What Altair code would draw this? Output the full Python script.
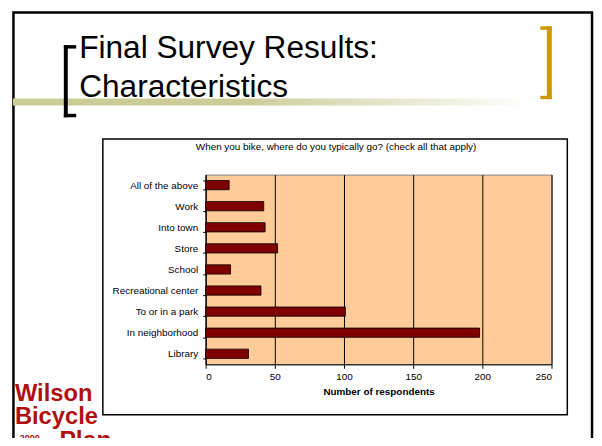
import altair as alt
import pandas as pd

# ---- data ----
categories = ["All of the above", "Work", "Into town", "Store", "School",
              "Recreational center", "To or in a park", "In neighborhood", "Library"]
respondents = [17, 42, 43, 52, 18, 40, 101, 198, 31]
x_ticks = [0, 50, 100, 150, 200, 250]

slide_title = ["Final Survey Results:", "Characteristics"]
chart_title = "When you bike, where do you typically go? (check all that apply)"
x_title = "Number of respondents"
logo_lines = ["Wilson", "Bicycle", "Plan", "2009"]

df = pd.DataFrame({"place": categories, "count": respondents})
one = pd.DataFrame({"a": [0]})

FONT = "Liberation Sans, Arial, sans-serif"


def box(x, x2, y, y2, **kw):
    return alt.Chart(one).mark_rect(**kw).encode(
        x=alt.value(x), x2=alt.value(x2), y=alt.value(y), y2=alt.value(y2))


def label(text, x, y, **kw):
    return alt.Chart(one).mark_text(text=text, baseline="alphabetic", **kw).encode(
        x=alt.value(x), y=alt.value(y))


# ---- slide decoration (coordinates relative to the plot area origin) ----
slide_border = box(-194.5, 391, -164, 296, fillOpacity=0, stroke="black", strokeWidth=2.5)
band = box(-195, 330, -77, -70, fill=alt.Gradient(
    gradient="linear", x1=0, x2=1, y1=0, y2=0,
    stops=[alt.GradientStop(offset=0, color="#cccc99"),
           alt.GradientStop(offset=0.45, color="#cccc99"),
           alt.GradientStop(offset=1, color="#ffffff")]))
br1 = box(-143.5, -139.5, -131, -58, fill="black")
br2 = box(-143.5, -131, -131, -127.5, fill="black")
br3 = box(-143.5, -131, -61.5, -58, fill="black")
gb1 = box(345.3, 350.3, -150, -76.3, fill="#cc9900")
gb2 = box(338.7, 350.3, -150, -146.5, fill="#cc9900")
gb3 = box(338.7, 350.3, -79.7, -76.3, fill="#cc9900")
t1 = label(slide_title[0], -128, -118, align="left", font=FONT, fontSize=32, color="black")
t2 = label(slide_title[1], -128, -79, align="left", font=FONT, fontSize=32, color="black")
chart_box = box(-104, 366, -36, 243, fillOpacity=0, stroke="black", strokeWidth=1.5)
ctitle = label(chart_title, 132, -25, align="center", font=FONT, fontSize=10, color="black")

LOGO = "#b00f0f"
lg1 = label(logo_lines[0], -193, 229, align="left", font=FONT, fontSize=24, fontWeight="bold", color=LOGO)
lg2 = label(logo_lines[1], -193, 252, align="left", font=FONT, fontSize=24, fontWeight="bold", color=LOGO)
lg3 = label(logo_lines[2], -148, 277, align="left", font=FONT, fontSize=25, fontWeight="bold", color=LOGO)
lg4 = label(logo_lines[3], -188, 270, align="left", font=FONT, fontSize=9, fontWeight="bold", color=LOGO)

# ---- bar chart ----
bars = alt.Chart(df).mark_bar(color="#800000", stroke="black", strokeWidth=0.8).encode(
    x=alt.X("count:Q", scale=alt.Scale(domain=[0, 250], nice=False),
            axis=alt.Axis(values=x_ticks, title=x_title, grid=True, gridColor="black",
                          gridWidth=1, gridOpacity=1, tickSize=4, labelPadding=3,
                          titlePadding=6, titleFontWeight="bold", titleFontSize=10)),
    y=alt.Y("place:N", sort=categories,
            scale=alt.Scale(paddingInner=0.56, paddingOuter=0.28),
            axis=alt.Axis(title=None, tickBand="extent", tickSize=3, labelPadding=5,
                          grid=False)),
)

chart = alt.layer(
    slide_border, band, br1, br2, br3, gb1, gb2, gb3, t1, t2, chart_box, ctitle,
    lg1, lg2, lg3, lg4, bars
).properties(
    width=350, height=192,
    autosize=alt.AutoSizeParams(type="none"),
    padding={"left": 200, "top": 166, "right": 43, "bottom": 72},
    background="white",
).configure_view(
    fill="#ffcc99", stroke="#808080", strokeWidth=1
).configure_axis(
    labelFont=FONT, titleFont=FONT, labelFontSize=10, labelColor="black",
    titleColor="black", domainColor="black", tickColor="black", domainWidth=1,
)

chart.save("out.html", embed_options={"renderer": "svg", "actions": False})
